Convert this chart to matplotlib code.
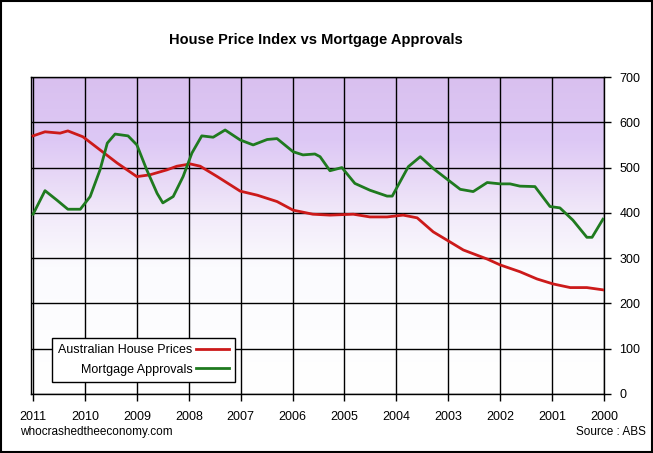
import numpy as np
import matplotlib.pyplot as plt
from matplotlib.colors import LinearSegmentedColormap

plt.rcParams["font.family"] = ["Liberation Sans", "DejaVu Sans"]

# %%
# values (x axis runs 2011 -> 2000, left to right)
house_years = [2011.0, 2010.77, 2010.48, 2010.33, 2010.04, 2009.71, 2009.38, 2009.0,
               2008.75, 2008.42, 2008.23, 2007.97, 2007.78, 2007.45, 2007.01, 2006.68,
               2006.30, 2005.99, 2005.61, 2005.28, 2004.83, 2004.51, 2004.18, 2003.87,
               2003.60, 2003.29, 2002.97, 2002.71, 2002.25, 2002.0, 2001.62, 2001.29,
               2000.98, 2000.65, 2000.33, 2000.02]
house_prices = [570, 579, 576, 581, 568, 539, 510, 480,
                484, 495, 503, 508, 503, 480, 448, 439,
                425, 406, 397, 395, 397, 391, 391, 395,
                389, 358, 336, 318, 298, 285, 270, 254,
                243, 235, 235, 230]

mortgage_years = [2011.0, 2010.77, 2010.54, 2010.33, 2010.09, 2009.90, 2009.71, 2009.57,
                  2009.42, 2009.17, 2009.0, 2008.81, 2008.61, 2008.50, 2008.30, 2008.11,
                  2007.94, 2007.75, 2007.53, 2007.30, 2007.01, 2006.76, 2006.49, 2006.30,
                  2005.99, 2005.80, 2005.57, 2005.47, 2005.28, 2005.05, 2004.80, 2004.51,
                  2004.18, 2004.08, 2003.77, 2003.54, 2003.29, 2003.02, 2002.77, 2002.52,
                  2002.25, 2002.0, 2001.81, 2001.62, 2001.33, 2001.04, 2000.85, 2000.60,
                  2000.33, 2000.23, 2000.02]
mortgage_approvals = [397, 449, 428, 408, 408, 436, 495, 554,
                      574, 570, 550, 495, 443, 422, 436, 480,
                      532, 570, 567, 583, 561, 550, 562, 564,
                      535, 528, 530, 524, 493, 500, 465, 450,
                      437, 437, 502, 524, 498, 474, 452, 447,
                      467, 464, 464, 459, 458, 414, 411, 384,
                      346, 346, 386]

year_ticks = list(range(2011, 1999, -1))
value_ticks = list(range(0, 701, 100))

# %%
fig = plt.figure(figsize=(6.53, 4.53), dpi=100)
ax = fig.add_axes([31 / 653, 59 / 453, 573 / 653, 317 / 453])

# background: purple at the top fading to white
grad = LinearSegmentedColormap.from_list(
    "bg",
    [(0.0, "#ffffff"), (0.40, "#fbfbfe"), (0.55, "#f3ecfa"),
     (0.70, "#e6d6f6"), (0.80, "#ddc8f5"), (1.0, "#d9c0ef")],
)
ax.imshow(np.linspace(0, 1, 256).reshape(-1, 1), cmap=grad, aspect="auto",
          extent=[2011.04, 2000, 0, 700], origin="lower", zorder=0)

ax.plot(house_years, house_prices, color="#cc1a1a", lw=2, label="Australian House Prices",
        zorder=3, solid_joinstyle="round")
ax.plot(mortgage_years, mortgage_approvals, color="#1f7a1f", lw=2, label="Mortgage Approvals",
        zorder=3, solid_joinstyle="round")

ax.set_xlim(2011.04, 2000)
ax.set_ylim(0, 700)
ax.set_xticks(year_ticks)
ax.set_yticks(value_ticks)
ax.yaxis.tick_right()
ax.tick_params(axis="both", direction="out", length=5, width=1, labelsize=9, colors="black")
ax.tick_params(axis="y", pad=6)
ax.tick_params(axis="x", pad=7)
ax.grid(True, color="black", lw=1, zorder=1)
ax.set_axisbelow(False)
for s in ax.spines.values():
    s.set_color("black")
    s.set_linewidth(1)

leg = ax.legend(loc="lower left", bbox_to_anchor=(21 / 573, 12 / 317), borderaxespad=0,
                markerfirst=False, fontsize=9, frameon=True, fancybox=False, edgecolor="black",
                handlelength=2.6, handletextpad=0.3, borderpad=0.5, labelspacing=0.6)
leg.get_frame().set_linewidth(1)
leg.get_frame().set_facecolor("white")
leg.get_frame().set_alpha(1)

fig.text(316 / 653, 1 - 40 / 453, "House Price Index vs Mortgage Approvals",
         ha="center", va="center", fontsize=10.5, fontweight="bold")
fig.text(20 / 653, 1 - 432 / 453, "whocrashedtheeconomy.com", ha="left", va="center", fontsize=8.5)
fig.text(646 / 653, 1 - 432 / 453, "Source : ABS", ha="right", va="center", fontsize=8.5)

# outer border
fig.patches.append(plt.Rectangle((0.0015, 0.002), 0.997, 0.996, transform=fig.transFigure,
                                 fill=False, edgecolor="black", lw=1.5))

fig.savefig("out.png", dpi=100)
